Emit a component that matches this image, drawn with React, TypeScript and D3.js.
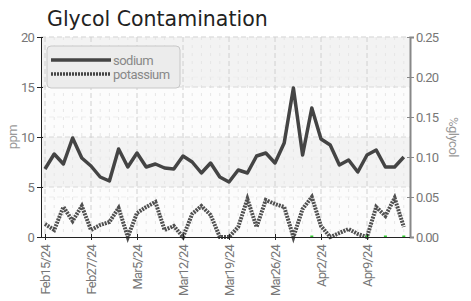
import * as d3 from "d3";
import { useEffect, useRef } from "react";
import * as React from "react";

// categories (sample dates)
const dates = [
  "Feb15/24", "Feb16/24", "Feb20/24", "Feb22/24", "Feb26/24",
  "Feb27/24", "Feb28/24", "Feb29/24", "Mar1/24", "Mar4/24",
  "Mar5/24", "Mar6/24", "Mar7/24", "Mar8/24", "Mar11/24",
  "Mar12/24", "Mar13/24", "Mar14/24", "Mar15/24", "Mar18/24",
  "Mar19/24", "Mar20/24", "Mar21/24", "Mar22/24", "Mar25/24",
  "Mar26/24", "Mar27/24", "Mar28/24", "Mar29/24", "Apr1/24",
  "Apr2/24", "Apr3/24", "Apr4/24", "Apr5/24", "Apr8/24",
  "Apr9/24", "Apr10/24", "Apr11/24", "Apr12/24", "Apr15/24",
];

const sodium = [
  6.8, 8.3, 7.3, 9.9, 7.9, 7.1, 6.0, 5.6, 8.8, 7.0,
  8.4, 7.0, 7.3, 6.9, 6.8, 8.1, 7.5, 6.4, 7.4, 6.0,
  5.5, 6.7, 6.4, 8.1, 8.4, 7.4, 9.4, 14.9, 8.2, 12.9,
  9.8, 9.2, 7.2, 7.7, 6.5, 8.2, 8.7, 7.0, 7.0, 8.0,
];

const potassium = [
  1.3, 0.7, 3.0, 1.6, 3.1, 0.7, 1.2, 1.5, 2.9, 0.0,
  2.4, 3.0, 3.5, 0.7, 1.1, 0.0, 2.3, 3.1, 2.2, 0.0,
  0.0, 1.0, 3.8, 1.0, 3.7, 3.3, 3.0, 0.0, 2.8, 4.0,
  1.1, 0.0, 0.4, 0.8, 0.3, 0.0, 3.0, 2.1, 3.9, 1.0,
];

// %glycol readings (only a few reported, all zero)
const glycolIdx = [29, 35, 37, 39];
const glycolVal = [0, 0, 0, 0];

const ppmTicks = [0, 5, 10, 15, 20];
const glycolTicks = [0, 0.05, 0.1, 0.15, 0.2, 0.25];

const W = 471;
const H = 301;
const axisFont = "'Roboto', sans-serif";

const App: React.FC = () => {
  const ref = useRef<SVGSVGElement>(null);

  useEffect(() => {
    const svg = d3.select(ref.current);
    svg.selectAll("*").remove();

    const left = 41;
    const right = 410;
    const top = 37;
    const bottom = 237;

    const x = d3.scalePoint<string>().domain(dates).range([45, 403.8]);
    const y = d3.scaleLinear().domain([0, 20]).range([bottom, top]);
    const y2 = d3.scaleLinear().domain([0, 0.25]).range([bottom, top]);

    // title
    svg
      .append("text")
      .attr("x", 47)
      .attr("y", 26)
      .attr("font-family", "'DejaVu Sans', sans-serif")
      .attr("font-size", 20.5)
      .attr("fill", "#222")
      .text("Glycol Contamination");

    // banded background
    const bands = d3.range(0, 20, 5);
    svg
      .selectAll("rect.band")
      .data(bands)
      .enter()
      .append("rect")
      .attr("x", left)
      .attr("width", right - left)
      .attr("y", (d) => y(d + 5))
      .attr("height", (d) => y(d) - y(d + 5))
      .attr("fill", (d) => (d % 10 === 0 ? "#fcfcfc" : "#f3f3f3"));

    // minor vertical grid
    svg
      .selectAll("line.vminor")
      .data(dates.filter((_, i) => i % 5 !== 0))
      .enter()
      .append("line")
      .attr("x1", (d) => x(d)!)
      .attr("x2", (d) => x(d)!)
      .attr("y1", top)
      .attr("y2", bottom)
      .attr("stroke", "#e6e6e6")
      .attr("stroke-dasharray", "3,5");

    // right axis grid
    svg
      .selectAll("line.hg2")
      .data(glycolTicks.slice(1))
      .enter()
      .append("line")
      .attr("x1", left)
      .attr("x2", right)
      .attr("y1", (d) => y2(d))
      .attr("y2", (d) => y2(d))
      .attr("stroke", "#eeeeee")
      .attr("stroke-dasharray", "5,3");

    // major grid
    svg
      .selectAll("line.hg")
      .data(ppmTicks.slice(1))
      .enter()
      .append("line")
      .attr("x1", left)
      .attr("x2", right)
      .attr("y1", (d) => y(d))
      .attr("y2", (d) => y(d))
      .attr("stroke", "#d8d8d8")
      .attr("stroke-dasharray", "5,3");

    svg
      .selectAll("line.vmajor")
      .data(dates.filter((_, i) => i % 5 === 0))
      .enter()
      .append("line")
      .attr("x1", (d) => x(d)!)
      .attr("x2", (d) => x(d)!)
      .attr("y1", top)
      .attr("y2", bottom)
      .attr("stroke", "#d0d0d0")
      .attr("stroke-dasharray", "5,3");

    // series
    const line = d3
      .line<number>()
      .x((_, i) => x(dates[i])!)
      .y((d) => y(d));

    svg
      .append("path")
      .attr("d", line(potassium))
      .attr("fill", "none")
      .attr("stroke", "#505050")
      .attr("stroke-width", 4)
      .attr("stroke-dasharray", "2,1");

    svg
      .append("path")
      .attr("d", line(sodium))
      .attr("fill", "none")
      .attr("stroke", "#444")
      .attr("stroke-width", 3.5)
      .attr("stroke-linejoin", "round");

    // glycol points (all at 0)
    svg
      .selectAll("rect.gly")
      .data(glycolIdx)
      .enter()
      .append("rect")
      .attr("x", (d) => x(dates[d])! - 1.5)
      .attr("y", (_, i) => y2(glycolVal[i]) - 1.5)
      .attr("width", 3)
      .attr("height", 2)
      .attr("fill", "#3c3");

    // axes
    const styleAxis = (g: d3.Selection<SVGGElement, unknown, null, undefined>) => {
      g.selectAll("text")
        .attr("font-family", axisFont)
        .attr("font-size", 13)
        .attr("letter-spacing", "-0.8px")
        .attr("fill", "#777");
    };

    const yAxis = svg
      .append("g")
      .attr("transform", `translate(${left},0)`)
      .call(d3.axisLeft(y).tickValues(ppmTicks).tickSize(4).tickPadding(3));
    yAxis.select(".domain").attr("stroke", "#222");
    yAxis.selectAll(".tick line").attr("stroke", "#222").attr("x2", -4).attr("x1", 2);
    styleAxis(yAxis);

    const y2Axis = svg
      .append("g")
      .attr("transform", `translate(${right},0)`)
      .call(
        d3
          .axisRight(y2)
          .tickValues(glycolTicks)
          .tickFormat(d3.format(".2f"))
          .tickSize(4)
          .tickPadding(2)
      );
    y2Axis.select(".domain").attr("stroke", "#888").attr("stroke-width", 2);
    y2Axis.selectAll(".tick line").attr("stroke", "#888").attr("x1", -3);
    styleAxis(y2Axis);

    const xAxis = svg
      .append("g")
      .attr("transform", `translate(0,${bottom})`)
      .call(
        d3
          .axisBottom(x)
          .tickValues(dates.filter((_, i) => i % 5 === 0))
          .tickSize(3)
          .tickSizeOuter(0)
      );
    xAxis.select(".domain").attr("stroke", "#222").attr("d", `M${left},0.5H${right}`);
    xAxis.selectAll(".tick line").attr("stroke", "#222").attr("y1", -3);
    styleAxis(xAxis);
    xAxis
      .selectAll("text")
      .attr("transform", "rotate(-90)")
      .attr("text-anchor", "end")
      .attr("x", -8)
      .attr("y", 0)
      .attr("dy", "0.35em");

    // axis titles
    svg
      .append("text")
      .attr("transform", `translate(17,${(top + bottom) / 2}) rotate(-90)`)
      .attr("text-anchor", "middle")
      .attr("font-family", axisFont)
      .attr("font-size", 13)
      .attr("letter-spacing", "-0.5px")
      .attr("fill", "#999")
      .text("ppm");

    svg
      .append("text")
      .attr("transform", `translate(449,${(top + bottom) / 2}) rotate(90)`)
      .attr("text-anchor", "middle")
      .attr("font-family", axisFont)
      .attr("font-size", 13)
      .attr("letter-spacing", "-0.5px")
      .attr("fill", "#999")
      .text("%glycol");

    // legend
    const legend = svg.append("g").attr("transform", "translate(47,46)");
    legend
      .append("rect")
      .attr("width", 133)
      .attr("height", 42)
      .attr("rx", 4)
      .attr("fill", "#ececec")
      .attr("stroke", "#c8c8c8");
    const items = [
      { name: "sodium", dash: null as string | null },
      { name: "potassium", dash: "2,1" },
    ];
    items.forEach((it, i) => {
      const ly = 14 + i * 14;
      legend
        .append("line")
        .attr("x1", 4)
        .attr("x2", 64)
        .attr("y1", ly)
        .attr("y2", ly)
        .attr("stroke", "#444")
        .attr("stroke-width", 3.5)
        .attr("stroke-dasharray", it.dash);
      legend
        .append("text")
        .attr("x", 66)
        .attr("y", ly)
        .attr("dy", "0.35em")
        .attr("font-family", axisFont)
        .attr("font-size", 13)
        .attr("letter-spacing", "-0.5px")
        .attr("fill", "#888")
        .text(it.name);
    });
  }, []);

  return (
    <svg
      ref={ref}
      width={W}
      height={H}
      style={{ position: "absolute", left: 0, top: 0, background: "#fff" }}
    />
  );
};

export default App;
